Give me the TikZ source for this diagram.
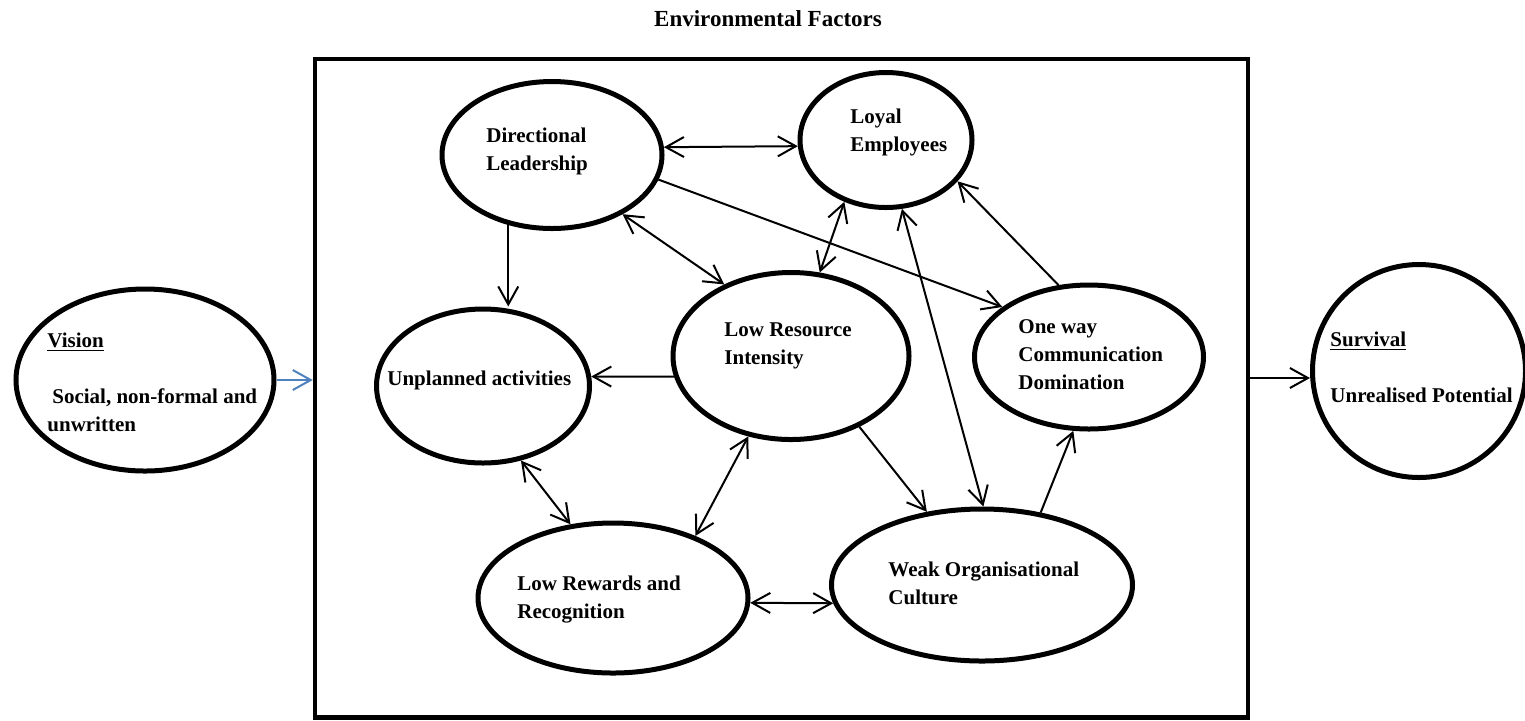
\documentclass[tikz,border=0pt]{standalone}
\usepackage{fontspec}
\setmainfont{Liberation Serif}
\usepackage{tikz}
\usetikzlibrary{calc}
\usetikzlibrary{shapes.geometric}
\usetikzlibrary{arrows.meta}
\definecolor{blue}{RGB}{79,129,189}

\begin{document}
\begin{tikzpicture}[x=0.5pt,y=-0.5pt,>={Straight Barb[length=9pt,width=10pt]}, oval/.style={ellipse,draw,line width=2.5pt,inner sep=0pt}, txt/.style={anchor=west,align=left,inner sep=0pt,font=\fontsize{10.5}{14}\selectfont\bfseries}, link/.style={line width=1pt}]

\useasboundingbox (0,0) rectangle (1525,720);

\node[txt,anchor=base,font=\fontsize{11.5}{14}\selectfont\bfseries] (title) at (768,26) {Environmental Factors};
\node[draw,line width=2.2pt,inner sep=0pt,minimum width=466.5pt,minimum height=329.25pt] (box) at (781.5,388.25) {};

\node[oval,minimum width=129pt,minimum height=91pt] (vision) at (145,380) {};
\node[oval,minimum width=110pt,minimum height=73.5pt] (dl) at (552,155) {};
\node[oval,minimum width=86pt,minimum height=67.5pt] (loyal) at (886,140) {};
\node[oval,minimum width=106.5pt,minimum height=77pt] (unpl) at (483,386) {};
\node[oval,minimum width=118pt,minimum height=83.5pt] (lri) at (791,356) {};
\node[oval,minimum width=114.5pt,minimum height=72pt] (oneway) at (1089,357) {};
\node[oval,minimum width=135pt,minimum height=75pt] (lrr) at (613,598) {};
\node[oval,minimum width=150.5pt,minimum height=76pt] (weak) at (982,585) {};
\node[oval,minimum width=106.5pt,minimum height=106.5pt] (surv) at (1419,371) {};

\node[txt] (visiontxt) at (47,382) {\underline{Vision}\\[14pt]\hspace*{2.5pt}Social, non-formal and\\unwritten};
\node[txt] (dltxt) at (486,151) {Directional\\Leadership};
\node[txt] (loyaltxt) at (850,132) {Loyal\\Employees};
\node[txt] (unpltxt) at (387,380) {Unplanned activities};
\node[txt] (lritxt) at (724,346) {Low Resource\\Intensity};
\node[txt] (onewaytxt) at (1018,355) {One way\\Communication\\Domination};
\node[txt] (lrrtxt) at (517,600) {Low Rewards and\\Recognition};
\node[txt] (weaktxt) at (888,583) {Weak Organisational\\Culture};
\node[txt] (survtxt) at (1330,367) {\underline{Survival}\\[14pt]Unrealised Potential};

\draw[blue,link,->] (vision.east) -- (vision.east -| box.west);
\draw[link,->] ([yshift=-3.5pt]surv.west -| box.east) -- ([yshift=-3.5pt]surv.west);

\draw[link,<->] (dl.4) -- (loyal.184);
\draw[link,->] (dl.238) -- (dl.238 |- unpl.north);
\draw[link,<->] (dl.320) -- (lri.133);
\draw[link,->] (dl.347) -- (oneway.150);
\draw[link,->] (lri.190) -- (unpl.5);
\draw[link,<->] (lri.71) -- (loyal.236);
\draw[link,->] (oneway.113) -- (loyal.330);
\draw[link,<->] (loyal.283) -- (weak.89);
\draw[link,->] (lri.314) -- (weak.127);
\draw[link,->] (weak.51) -- (oneway.258);
\draw[link,<->] (unpl.297) -- (lrr.120);
\draw[link,<->] (lri.242) -- (lrr.37);
\draw[link,<->] (lrr.358) -- (weak.187);
\end{tikzpicture}
\end{document}
